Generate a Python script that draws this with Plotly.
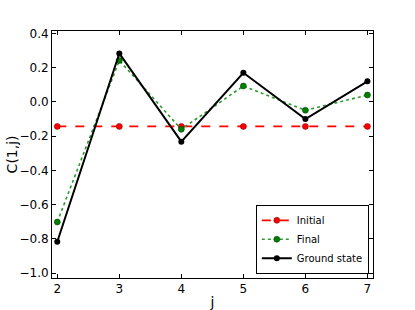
import plotly.graph_objects as go

j = [2, 3, 4, 5, 6, 7]
initial = [-0.143, -0.143, -0.143, -0.143, -0.143, -0.143]
final = [-0.701, 0.242, -0.16, 0.093, -0.049, 0.04]
ground = [-0.816, 0.283, -0.232, 0.17, -0.1, 0.12]

fig = go.Figure()
fig.add_trace(go.Scatter(x=j, y=initial, mode="lines+markers", name="Initial",
                         line=dict(color="red", width=1.8, dash="dash"),
                         marker=dict(color="red", size=6, line=dict(color="#600", width=0.5))))
fig.add_trace(go.Scatter(x=j, y=final, mode="lines+markers", name="Final",
                         line=dict(color="#2e9a2e", width=1.6, dash="dot"),
                         marker=dict(color="green", size=6, line=dict(color="#030", width=0.5))))
fig.add_trace(go.Scatter(x=j, y=ground, mode="lines+markers", name="Ground state",
                         line=dict(color="black", width=2),
                         marker=dict(color="black", size=6)))

axis_common = dict(showline=True, linecolor="black", linewidth=1, mirror="allticks",
                   ticks="inside", ticklen=4, tickcolor="black", showgrid=False,
                   zeroline=False, automargin=False,
                   tickfont=dict(family="DejaVu Sans", size=12, color="black"))

fig.update_xaxes(range=[1.915, 7.09], tickvals=j, ticktext=[str(v) for v in j],
                 title=dict(text="j", font=dict(family="DejaVu Sans", size=14, color="black")),
                 **axis_common)
fig.update_yaxes(range=[-1.028, 0.414], tickvals=[-1.0, -0.8, -0.6, -0.4, -0.2, 0.0, 0.2, 0.4],
                 ticktext=["\u22121.0", "\u22120.8", "\u22120.6", "\u22120.4", "\u22120.2", "0.0", "0.2", "0.4"],
                 **axis_common)

fig.add_annotation(text="C(1,j)", xref="paper", yref="paper", x=-0.125, y=0.5,
                   textangle=-90, showarrow=False, xanchor="center", yanchor="middle",
                   font=dict(family="DejaVu Sans", size=14, color="black"))

fig.update_layout(width=415, height=310, margin=dict(l=52, r=42, t=31, b=32),
                  paper_bgcolor="white", plot_bgcolor="white",
                  font=dict(family="DejaVu Sans", size=12, color="black"),
                  legend=dict(x=0.987, y=0.017, xanchor="right", yanchor="bottom",
                              bordercolor="black", borderwidth=1, bgcolor="white",
                              font=dict(size=10), tracegroupgap=0, itemwidth=30))

fig.write_html("out.html", config={"displayModeBar": False},
               post_script="document.body.style.margin='0px';")
